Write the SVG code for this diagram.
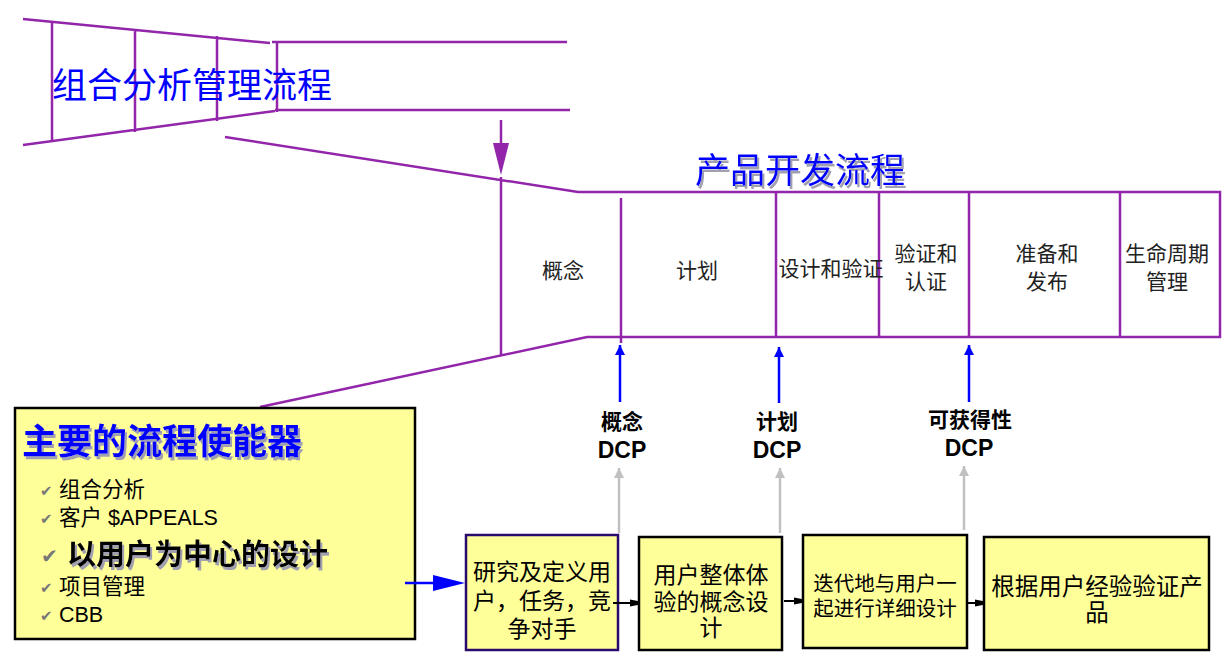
<svg xmlns="http://www.w3.org/2000/svg" width="1232" height="662" viewBox="0 0 1232 662">
<style>
.p{stroke:#9225AA;stroke-width:2.5;fill:none}
.cell{font-family:"Noto Sans CJK SC","Liberation Serif",serif;font-size:21px;fill:#222;text-anchor:middle;dominant-baseline:central}
.box{fill:#FFFF99;stroke:#000;stroke-width:2.5}
.bt{font-family:"Noto Sans CJK SC","Liberation Serif",serif;font-size:23px;fill:#000;text-anchor:middle;dominant-baseline:central}
.bt3{font-size:20.5px}
.bt4{font-size:23.5px}
.item{font-family:"Liberation Sans","Noto Sans CJK SC",sans-serif;font-size:21.5px;fill:#000;dominant-baseline:central}
.big{font-size:29px;font-weight:bold}
.chk{font-family:"DejaVu Sans",sans-serif;font-size:15px;fill:#777;dominant-baseline:central}
.chkb{font-size:20px}
.dcp1{font-family:"Noto Sans CJK SC","Liberation Serif",serif;font-size:21px;font-weight:bold;fill:#000;text-anchor:middle;dominant-baseline:central}
.dcp2{font-family:"Liberation Sans",sans-serif;font-size:23px;font-weight:bold;fill:#000;text-anchor:middle;dominant-baseline:central}
.blue{stroke:#0000FF;stroke-width:2.5}
.gray{stroke:#C0C0C0;stroke-width:2.5}
.blk{stroke:#000;stroke-width:2}
</style>
<defs>
<filter id="sh" x="-5%" y="-20%" width="115%" height="150%">
<feDropShadow dx="2" dy="3" stdDeviation="0.6" flood-color="#A0A0B0" flood-opacity="1"/>
</filter>
<marker id="ab" viewBox="0 0 10 10" refX="10" refY="5" markerWidth="4" markerHeight="5.5" markerUnits="strokeWidth" orient="auto"><path d="M0,0L10,5L0,10z" fill="#0000FF"/></marker>
<marker id="ag" viewBox="0 0 10 10" refX="10" refY="5" markerWidth="5" markerHeight="4" markerUnits="strokeWidth" orient="auto"><path d="M0,0L10,5L0,10z" fill="#C0C0C0"/></marker>
<marker id="ak" viewBox="0 0 10 10" refX="10" refY="5" markerWidth="6" markerHeight="4.5" markerUnits="strokeWidth" orient="auto"><path d="M0,1L10,3L10,7L0,9z" fill="#000"/></marker>
</defs>

<g id="portfolio-funnel">
<path class="p" d="M23,19 L270,43 M272,42 L567,42 M23,145 L275,111 M275,110 L570,110 M52,21 V142 M135,29 V132 M217,36 V121 M277,42 V112"/>
<text x="52" y="82" font-family="Noto Sans CJK SC,Liberation Serif,serif" font-size="35" fill="#0000FF" dominant-baseline="central">组合分析管理流程</text>
</g>

<g id="down-arrow">
<line class="p" x1="501" y1="120" x2="501" y2="146"/>
<path d="M493,143 L509,143 L501,175 z" fill="#9225AA"/>
</g>

<g id="pdp-frame">
<path class="p" d="M225,137 L578,192 L1220,192 L1220,337 L587,337 L260,407 M501,177 V356"/>
<path class="p" d="M621,198 V343 M776,192 V337 M879,192 V337 M969,192 V337 M1120,192 V337"/>
<text x="800" y="167" font-family="Noto Sans CJK SC,Liberation Serif,serif" font-size="35" fill="#0000FF" text-anchor="middle" dominant-baseline="central" filter="url(#sh)">产品开发流程</text>
</g>

<g id="phase-concept"><text class="cell" x="563" y="269">概念</text></g>
<g id="phase-plan"><text class="cell" x="697" y="269">计划</text></g>
<g id="phase-design"><text class="cell" x="831" y="267">设计和验证</text></g>
<g id="phase-verify"><text class="cell" x="926" y="252">验证和<tspan x="926" dy="28">认证</tspan></text></g>
<g id="phase-release"><text class="cell" x="1047" y="252">准备和<tspan x="1047" dy="28">发布</tspan></text></g>
<g id="phase-lifecycle"><text class="cell" x="1167" y="252">生命周期<tspan x="1167" dy="28">管理</tspan></text></g>

<g id="dcp-concept"><text class="dcp1" x="622" y="420">概念</text><text class="dcp2" x="622" y="450">DCP</text></g>
<g id="dcp-plan"><text class="dcp1" x="777" y="420">计划</text><text class="dcp2" x="777" y="450">DCP</text></g>
<g id="dcp-avail"><text class="dcp1" x="970" y="418">可获得性</text><text class="dcp2" x="969" y="448">DCP</text></g>

<g id="enablers">
<rect class="box" x="15" y="408" width="400" height="231"/>
<text x="22" y="438" font-family="Noto Sans CJK SC,Liberation Serif,serif" font-size="35" font-weight="bold" fill="#0000FF" dominant-baseline="central" filter="url(#sh)">主要的流程使能器</text>
<text class="chk" x="40" y="491">✔</text><text class="item" x="59" y="490">组合分析</text>
<text class="chk" x="40" y="519">✔</text><text class="item" x="59" y="518">客户 $APPEALS</text>
<text class="chk chkb" x="41" y="556">✔</text><text class="item big" x="67" y="555" filter="url(#sh)">以用户为中心的设计</text>
<text class="chk" x="40" y="588">✔</text><text class="item" x="59" y="587">项目管理</text>
<text class="chk" x="40" y="616">✔</text><text class="item" x="59" y="615">CBB</text>
</g>

<g id="step-research">
<rect class="box" x="466" y="535" width="152" height="115" style="stroke:#2A0A6E"/>
<text class="bt" x="542" y="570">研究及定义用<tspan x="542" dy="29">户，任务，竞</tspan><tspan x="542" dy="28">争对手</tspan></text>
</g>
<g id="step-concept">
<rect class="box" x="639" y="537" width="143" height="113"/>
<text class="bt" x="711" y="573">用户整体体<tspan x="711" dy="27">验的概念设</tspan><tspan x="711" dy="26">计</tspan></text>
</g>
<g id="step-iterate">
<rect class="box" x="803" y="535" width="164" height="113"/>
<text class="bt bt3" x="885" y="582">迭代地与用户一<tspan x="885" dy="25">起进行详细设计</tspan></text>
</g>
<g id="step-validate">
<rect class="box" x="984" y="537" width="225" height="113"/>
<text class="bt bt4" x="1097" y="585">根据用户经验验证产<tspan x="1097" dy="26">品</tspan></text>
</g>

<g id="connectors">
<line class="blue" x1="620" y1="402" x2="620" y2="345" marker-end="url(#ab)"/>
<line class="blue" x1="779" y1="403" x2="779" y2="347" marker-end="url(#ab)"/>
<line class="blue" x1="969" y1="402" x2="969" y2="345" marker-end="url(#ab)"/>
<line class="gray" x1="619" y1="533" x2="619" y2="468" marker-end="url(#ag)"/>
<line class="gray" x1="780" y1="533" x2="780" y2="468" marker-end="url(#ag)"/>
<line class="gray" x1="964" y1="530" x2="964" y2="466" marker-end="url(#ag)"/>
<line x1="405" y1="583" x2="435" y2="583" stroke="#0000FF" stroke-width="2.5"/>
<path d="M433,575 L465,583 L433,591 z" fill="#0000FF"/>
<line class="blk" x1="613" y1="603" x2="639" y2="603" marker-end="url(#ak)"/>
<line class="blk" x1="784" y1="601" x2="803" y2="601" marker-end="url(#ak)"/>
<line class="blk" x1="967" y1="603" x2="984" y2="603" marker-end="url(#ak)"/>
</g>
</svg>
